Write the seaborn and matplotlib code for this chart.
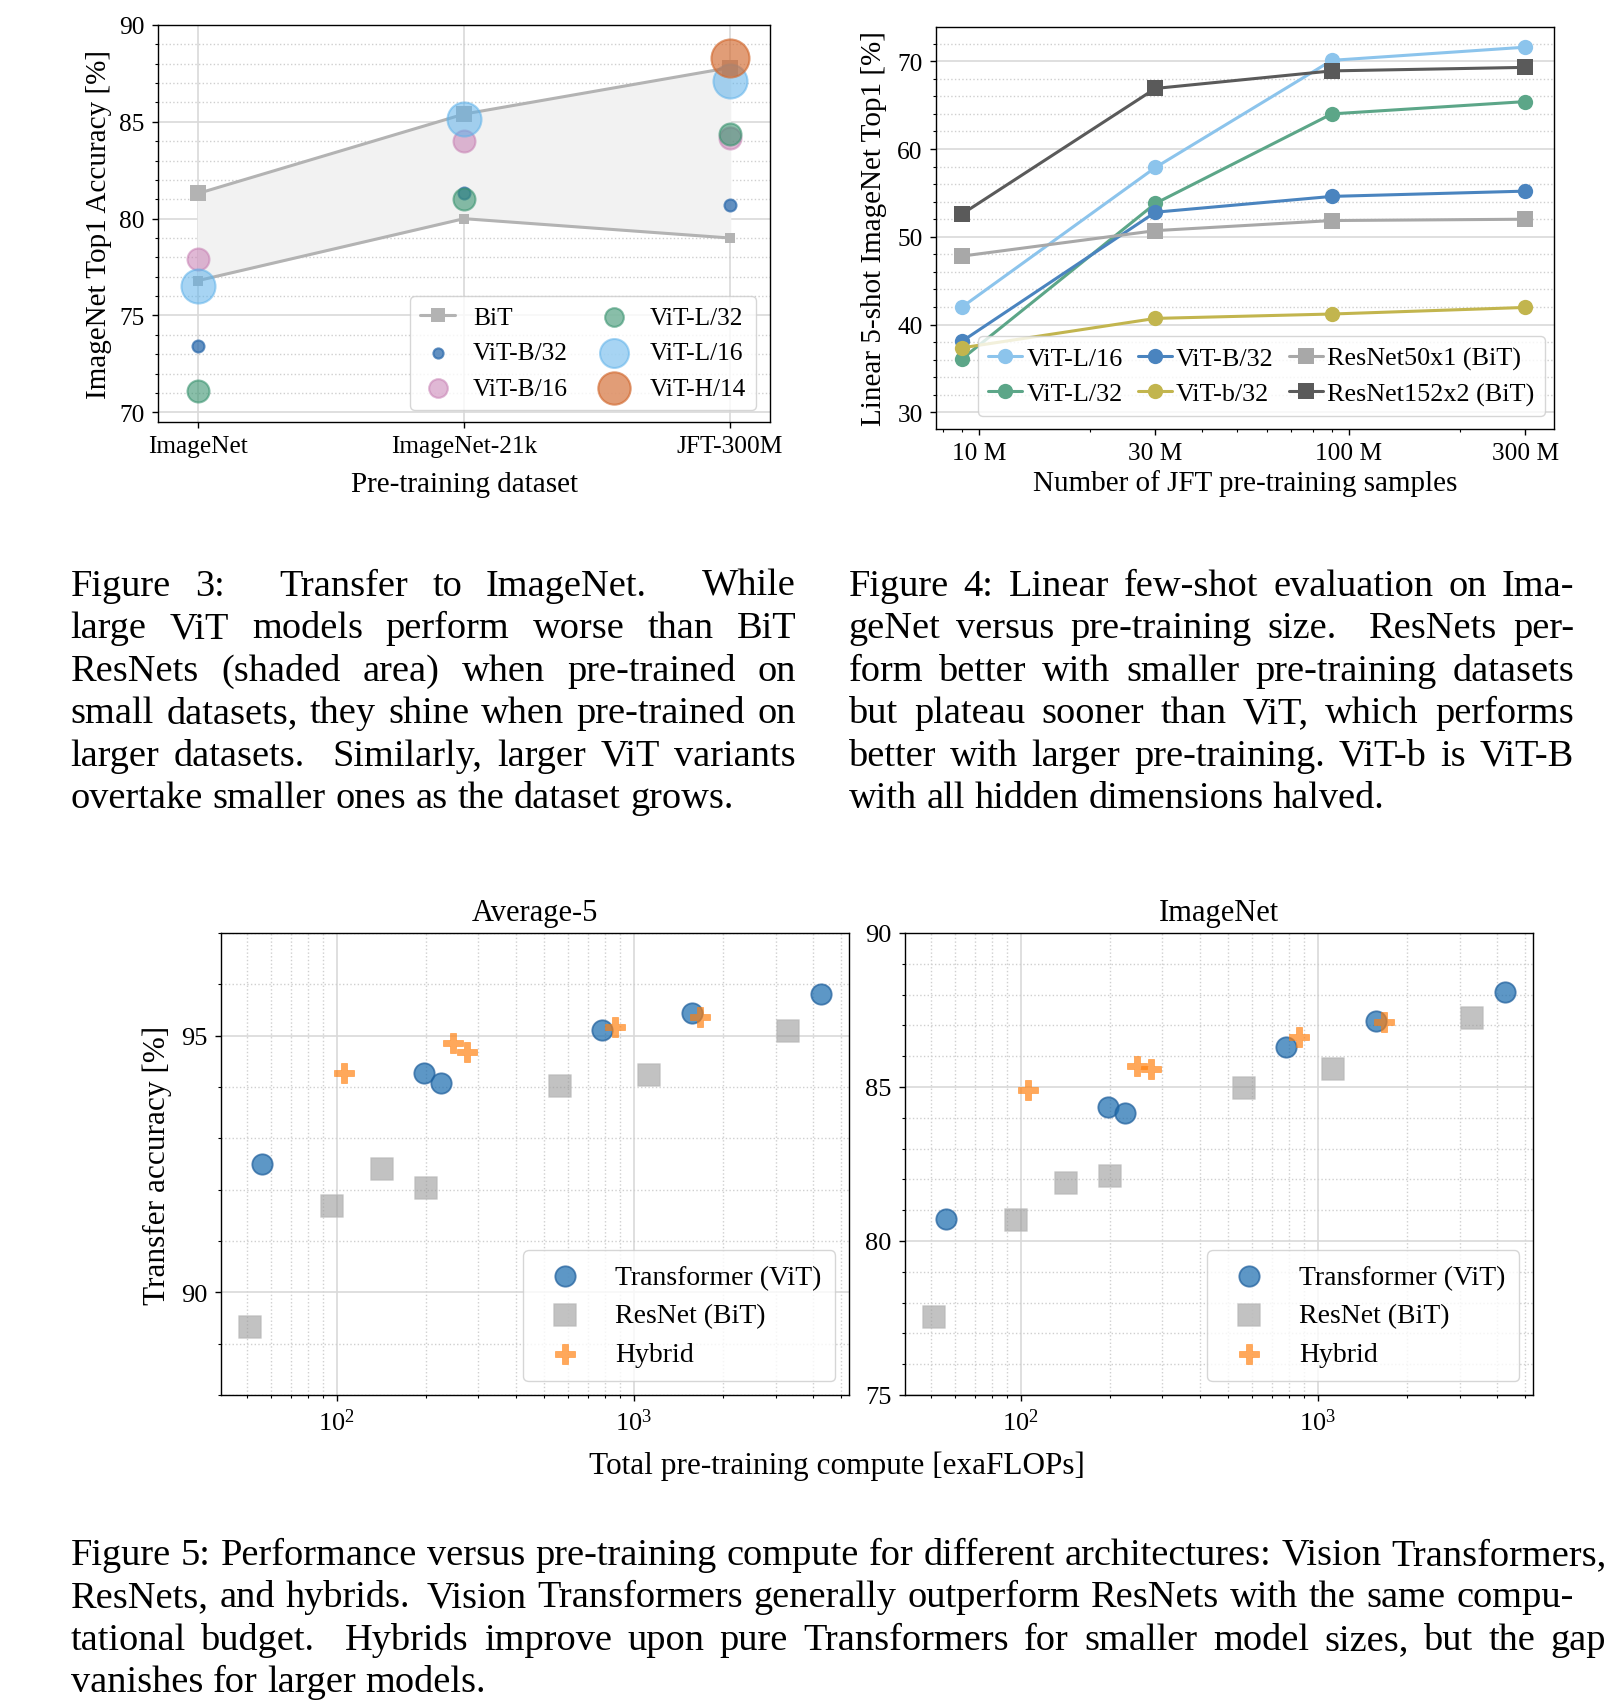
import matplotlib
matplotlib.use("Agg")
import re
import numpy as np
import pandas as pd
import matplotlib.pyplot as plt
import seaborn as sns
from matplotlib.ticker import MultipleLocator, NullFormatter

# ---------------- data: Figure 3 ----------------
datasets = ["ImageNet", "ImageNet-21k", "JFT-300M"]
bit_upper = [81.3, 85.4, 87.8]
bit_lower = [76.8, 80.0, 79.0]
vit_b32 = [73.4, 81.3, 80.7]
vit_b16 = [77.9, 84.0, 84.15]
vit_l32 = [71.1, 81.0, 84.37]
vit_l16 = [76.5, 85.15, 87.1]
vit_h14_jft = [88.3]

# ---------------- data: Figure 4 ----------------
jft_samples = [9, 30, 90, 300]
jft_tick_vals = [10, 30, 100, 300]
jft_tick_labels = ["10 M", "30 M", "100 M", "300 M"]
fs_vit_l16 = [42.0, 57.9, 70.1, 71.6]
fs_vit_l32 = [36.1, 53.8, 64.0, 65.4]
fs_vit_b32 = [38.1, 52.8, 54.6, 55.2]
fs_vit_b32_small = [37.35, 40.7, 41.2, 41.95]
fs_r50x1 = [47.8, 50.7, 51.85, 52.0]
fs_r152x2 = [52.6, 66.9, 68.9, 69.3]

# ---------------- data: Figure 5 ----------------
vit_flops = [56, 197, 225, 783, 1565, 4257]
vit_avg5 = [92.5, 94.27, 94.07, 95.12, 95.45, 95.82]
vit_imnet = [80.72, 84.35, 84.14, 86.3, 87.13, 88.09]
bit_flops = [51, 96.5, 142, 199.5, 564, 1127, 3312]
bit_avg5 = [89.33, 91.68, 92.41, 92.03, 94.01, 94.24, 95.09]
bit_imnet = [77.53, 80.69, 81.87, 82.12, 84.98, 85.57, 87.23]
hyb_flops = [106, 246, 274, 862, 1666]
hyb_avg5 = [94.28, 94.85, 94.68, 95.17, 95.37]
hyb_imnet = [84.9, 85.67, 85.59, 86.61, 87.12]

# ---------------- captions (double space = sentence gap) ----------------
cap3 = ["Figure 3:  Transfer to ImageNet.  While",
        "large ViT models perform worse than BiT",
        "ResNets (shaded area) when pre-trained on",
        "small datasets, they shine when pre-trained on",
        "larger datasets.  Similarly, larger ViT variants",
        "overtake smaller ones as the dataset grows."]
cap4 = ["Figure 4: Linear few-shot evaluation on Ima-",
        "geNet versus pre-training size.  ResNets per-",
        "form better with smaller pre-training datasets",
        "but plateau sooner than ViT, which performs",
        "better with larger pre-training. ViT-b is ViT-B",
        "with all hidden dimensions halved."]
cap5 = ["Figure 5: Performance versus pre-training compute for different architectures: Vision Transformers,",
        "ResNets, and hybrids.  Vision Transformers generally outperform ResNets with the same compu-",
        "tational budget.  Hybrids improve upon pure Transformers for smaller model sizes, but the gap",
        "vanishes for larger models."]

# ---------------- style ----------------
sns.set_style("ticks")
plt.rcParams["font.family"] = ["Liberation Serif", "DejaVu Serif"]
plt.rcParams["mathtext.fontset"] = "custom"
plt.rcParams["mathtext.rm"] = "Liberation Serif"
plt.rcParams["mathtext.it"] = "Liberation Serif:italic"
plt.rcParams["mathtext.bf"] = "Liberation Serif:bold"
plt.rcParams["axes.edgecolor"] = "black"
plt.rcParams["axes.linewidth"] = 1.0
plt.rcParams["xtick.color"] = "black"
plt.rcParams["ytick.color"] = "black"
plt.rcParams["text.color"] = "black"
plt.rcParams["axes.labelcolor"] = "black"

W, H, DPI = 1610, 1706, 100
fig = plt.figure(figsize=(W / DPI, H / DPI), dpi=DPI)


def px_axes(l, r, t, b):
    return fig.add_axes([l / W, 1 - b / H, (r - l) / W, (b - t) / H])


GRID_MAJ = dict(color="#d9d9d9", lw=1.2, ls="-")
GRID_MIN = dict(color="#cfcfcf", lw=1.0, ls=":")
TICK_FS = 18.3


def style_ticks(ax, fs=TICK_FS):
    ax.tick_params(which="major", direction="out", length=4.5, width=1.0,
                   labelsize=fs, pad=5)
    ax.tick_params(which="minor", direction="out", length=2.5, width=0.8)
    for s in ax.spines.values():
        s.set_visible(True)
        s.set_color("black")
        s.set_linewidth(1.0)
    ax.set_axisbelow(True)


# =============== Figure 3 ===============
ax1 = px_axes(158, 770, 26, 423)
idx = np.arange(len(datasets))
bit_col = "#b3b3b3"
ax1.fill_between(idx, bit_lower, bit_upper, color="#f2f2f2", zorder=1)
sns.lineplot(x=idx, y=bit_upper, ax=ax1, color=bit_col, lw=2.2, marker="s",
             markersize=12, mec=bit_col, mew=0, label="BiT", zorder=2)
sns.lineplot(x=idx, y=bit_lower, ax=ax1, color=bit_col, lw=2.2, marker="s",
             markersize=7, mec=bit_col, mew=0, zorder=2)

fig3_series = [
    ("ViT-B/32", idx, vit_b32, "#2f6cad", 0.75, 74),
    ("ViT-B/16", idx, vit_b16, "#c77fb3", 0.55, 250),
    ("ViT-L/32", idx, vit_l32, "#3a9470", 0.6, 250),
    ("ViT-L/16", idx, vit_l16, "#5fb2ea", 0.55, 600),
    ("ViT-H/14", idx[2:], vit_h14_jft, "#d2692f", 0.65, 750),
]
for name, xs, ys, col, al, s in fig3_series:
    sns.scatterplot(x=xs, y=ys, ax=ax1, s=s, color=col, alpha=al,
                    edgecolor=col, linewidth=1.5, label=name, zorder=3)

ax1.set_xlim(-0.15, 2.15)
ax1.set_ylim(69.5, 90)
ax1.set_xticks(idx)
ax1.set_xticklabels(datasets)
ax1.yaxis.set_major_locator(MultipleLocator(5))
ax1.yaxis.set_minor_locator(MultipleLocator(1))
ax1.grid(which="major", axis="both", **GRID_MAJ)
ax1.grid(which="minor", axis="y", **GRID_MIN)
style_ticks(ax1)
ax1.set_xlabel("Pre-training dataset", fontsize=21)
ax1.set_ylabel("ImageNet Top1 Accuracy [%]", fontsize=21)
ax1.xaxis.label.set_va("center")
ax1.yaxis.label.set_va("center")
ax1.xaxis.set_label_coords(0.5, -0.156)
ax1.yaxis.set_label_coords(-0.097, 0.5)
hd, lb = ax1.get_legend_handles_labels()
hmap = dict(zip(lb, hd))
order = ["BiT", "ViT-B/32", "ViT-B/16", "ViT-L/32", "ViT-L/16", "ViT-H/14"]
leg = ax1.legend([hmap[k] for k in order], order, ncol=2, loc="lower right",
                 bbox_to_anchor=(0.977, 0.030), borderaxespad=0,
                 fontsize=18.3, frameon=True, fancybox=True, framealpha=0.8,
                 edgecolor="#cccccc", handlelength=1.4, handletextpad=0.7,
                 columnspacing=1.1, labelspacing=0.5, borderpad=0.4,
                 markerscale=0.85)
leg.get_frame().set_linewidth(1.0)

# =============== Figure 4 ===============
ax2 = px_axes(936, 1554, 28, 430)
fig4_series = [
    ("ViT-L/16", fs_vit_l16, "#8cc4ec", "o"),
    ("ViT-L/32", fs_vit_l32, "#5ca688", "o"),
    ("ViT-B/32", fs_vit_b32, "#4a84bf", "o"),
    ("ViT-b/32", fs_vit_b32_small, "#c2b54e", "o"),
    ("ResNet50x1 (BiT)", fs_r50x1, "#a8a8a8", "s"),
    ("ResNet152x2 (BiT)", fs_r152x2, "#5a5a5a", "s"),
]
for name, ys, col, mk in fig4_series:
    sns.lineplot(x=jft_samples, y=ys, ax=ax2, color=col, lw=2.2, marker=mk,
                 markersize=11, mec=col, mew=0, label=name, zorder=3)
ax2.set_xscale("log")
ax2.set_xlim(7.65, 359)
ax2.set_ylim(28.1, 73.9)
ax2.set_xticks(jft_tick_vals)
ax2.set_xticklabels(jft_tick_labels)
ax2.xaxis.set_minor_formatter(NullFormatter())
ax2.yaxis.set_major_locator(MultipleLocator(10))
ax2.yaxis.set_minor_locator(MultipleLocator(2))
ax2.grid(False)
ax2.grid(which="major", axis="y", **GRID_MAJ)
ax2.grid(which="minor", axis="y", **GRID_MIN)
style_ticks(ax2)
ax2.set_xlabel("Number of JFT pre-training samples", fontsize=21)
ax2.set_ylabel("Linear 5-shot ImageNet Top1 [%]", fontsize=21)
ax2.xaxis.label.set_va("center")
ax2.yaxis.label.set_va("center")
ax2.xaxis.set_label_coords(0.5, -0.134)
ax2.yaxis.set_label_coords(-0.101, 0.5)
leg2 = ax2.legend(ncol=3, loc="lower right", bbox_to_anchor=(0.9854, 0.032),
                  borderaxespad=0, fontsize=18.8, frameon=True,
                  fancybox=True, framealpha=0.8, edgecolor="#cccccc",
                  handlelength=1.3, handletextpad=0.15, columnspacing=0.6,
                  labelspacing=0.45, borderpad=0.4)
leg2.get_frame().set_linewidth(1.0)

# =============== Figure 5 ===============
ax3 = px_axes(221, 849, 934, 1396)
ax4 = px_axes(905, 1533, 934, 1396)
fig5 = [
    (ax3, "Average-5", vit_avg5, bit_avg5, hyb_avg5, (88, 97), [90, 95]),
    (ax4, "ImageNet", vit_imnet, bit_imnet, hyb_imnet, (75, 90), [75, 80, 85, 90]),
]
for ax, title, vy, by, hy, ylim, yt in fig5:
    sns.scatterplot(x=vit_flops, y=vy, ax=ax, marker="o", s=215,
                    color="#1f6fb0", alpha=0.72, edgecolor="#1f5f9c",
                    linewidth=1.3, label="Transformer (ViT)", zorder=3)
    sns.scatterplot(x=bit_flops, y=by, ax=ax, marker="s", s=235,
                    color="#9a9a9a", alpha=0.6, edgecolor="#b8b8b8",
                    linewidth=1.3, label="ResNet (BiT)", zorder=3)
    sns.scatterplot(x=hyb_flops, y=hy, ax=ax, marker="P", s=200,
                    color="#ff7f0e", alpha=0.68, edgecolor="#ff7f0e",
                    linewidth=0.5, label="Hybrid", zorder=4)
    ax.set_xscale("log")
    ax.set_xlim(40.8, 5300)
    ax.set_ylim(*ylim)
    ax.set_yticks(yt)
    ax.yaxis.set_minor_locator(MultipleLocator(1))
    ax.xaxis.set_minor_formatter(NullFormatter())
    ax.grid(which="major", axis="both", **GRID_MAJ)
    ax.grid(which="minor", axis="both", **GRID_MIN)
    style_ticks(ax, fs=19)
    ax.set_title(title, fontsize=22, pad=9)
    ax.set_xlabel("")
    ax.set_ylabel("")
    lg = ax.legend(loc="lower right", fontsize=20, frameon=True, fancybox=True,
                   framealpha=0.8, edgecolor="#cccccc", handlelength=2.0,
                   handletextpad=0.8, labelspacing=0.48, borderpad=0.5)
    lg.get_frame().set_linewidth(1.0)

ax3.set_ylabel("Transfer accuracy [%]", fontsize=22.5)
ax3.yaxis.label.set_va("center")
ax3.yaxis.set_label_coords(-0.101, 0.5)
fig.text(837 / W, 1 - 1466 / H, "Total pre-training compute [exaFLOPs]",
         fontsize=22.5, ha="center", va="center")

# =============== captions (justified, TeX-like stretch) ===============
CAP_FS = 27.6
renderer = fig.canvas.get_renderer()
EM = CAP_FS * DPI / 72


def caption_line(text, x0, x1, ybase, justify=True):
    parts = re.split(r"( +)", text)
    words = parts[0::2]
    seps = parts[1::2]
    arts = [fig.text(0, 1 - ybase / H, w, fontsize=CAP_FS, ha="left",
                     va="baseline") for w in words]
    widths = [a.get_window_extent(renderer).width for a in arts]
    nat = [(0.33 if len(s) > 1 else 0.25) * EM for s in seps]
    stre = [(3.0 if len(s) > 1 else 1.0) for s in seps]
    if justify and seps:
        extra = (x1 - x0) - sum(widths) - sum(nat)
        if extra >= 0:
            r = extra / sum(stre)
            gaps = [n + st * r for n, st in zip(nat, stre)]
        else:
            f = (x1 - x0 - sum(widths)) / sum(nat)
            gaps = [n * f for n in nat]
    else:
        gaps = [0.25 * EM for _ in seps]
    x = x0
    for i, (a, wd) in enumerate(zip(arts, widths)):
        a.set_x(x / W)
        if i < len(gaps):
            x += wd + gaps[i]


LS = 42.4
for i, line in enumerate(cap3):
    caption_line(line, 70.7, 796, 596 + i * LS, justify=(i < len(cap3) - 1))
for i, line in enumerate(cap4):
    caption_line(line, 848.5, 1574, 596 + i * LS, justify=(i < len(cap4) - 1))
cap5_right = [1607, 1574, 1606, None]
for i, line in enumerate(cap5):
    r = cap5_right[i]
    caption_line(line, 70.7, r if r else 0, 1565 + i * LS, justify=r is not None)

fig.savefig("out.png", dpi=DPI, facecolor="white")
